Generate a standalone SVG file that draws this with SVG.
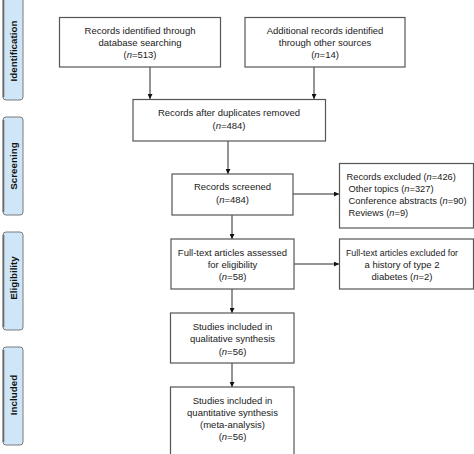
<svg xmlns="http://www.w3.org/2000/svg" width="474" height="454" viewBox="0 0 474 454">
<style>
.box{fill:#fff;stroke:#555;stroke-width:1.2}
.side{fill:#cfe6f8;stroke:#7a7a7a;stroke-width:1}
.sidel{stroke:#6a6a6a;stroke-width:1.6;fill:none}
.t{font-family:"Liberation Sans",Arial,sans-serif;font-size:9.5px;fill:#1a1a1a;text-anchor:middle}
.tl{font-family:"Liberation Sans",Arial,sans-serif;font-size:9.3px;fill:#1a1a1a}
.s{font-family:"Liberation Sans",Arial,sans-serif;font-size:9.8px;font-weight:bold;fill:#111;text-anchor:middle}
.c{stroke:#2a2a2a;stroke-width:1;fill:none;marker-end:url(#ah)}
</style>
<defs>
<marker id="ah" viewBox="0 0 10 10" refX="10" refY="5" markerWidth="5" markerHeight="5" markerUnits="userSpaceOnUse" orient="auto">
<path d="M0,0 L10,5 L0,10 z" fill="#111"/>
</marker>
</defs>
<rect width="474" height="454" fill="#fff"/>
<g id="side-identification">
<rect class="side" x="3" y="-4" width="20" height="104" rx="3"/>
<path class="sidel" d="M3.5,0 V97"/>
<text class="s" transform="translate(16.5,51) rotate(-90)">Identification</text>
</g>
<g id="side-screening">
<rect class="side" x="3" y="117" width="20" height="98" rx="3"/>
<path class="sidel" d="M3.5,120 V212"/>
<text class="s" transform="translate(16.5,166) rotate(-90)">Screening</text>
</g>
<g id="side-eligibility">
<rect class="side" x="3" y="232" width="20" height="98" rx="3"/>
<path class="sidel" d="M3.5,235 V327"/>
<text class="s" transform="translate(16.5,278) rotate(-90)">Eligibility</text>
</g>
<g id="side-included">
<rect class="side" x="3" y="347" width="20" height="98" rx="3"/>
<path class="sidel" d="M3.5,350 V442"/>
<text class="s" transform="translate(16.5,395) rotate(-90)">Included</text>
</g>
<g id="connectors">
<path class="c" d="M150,67 V99"/>
<path class="c" d="M314,67 V99"/>
<path class="c" d="M228,141 V174"/>
<path class="c" d="M232,215 V239"/>
<path class="c" d="M293,194 H339"/>
<path class="c" d="M294,264 H339"/>
<path class="c" d="M232,289 V313"/>
<path class="c" d="M232,363 V387"/>
</g>
<g id="n-database">
<rect class="box" x="59.5" y="17.5" width="161" height="49.5"/>
<text class="t" x="140" y="34">Records identified through</text>
<text class="t" x="140" y="46">database searching</text>
<text class="t" x="140" y="58">(<tspan font-style="italic">n</tspan>=513)</text>
</g>
<g id="n-other">
<rect class="box" x="245" y="17.5" width="160" height="49.5"/>
<text class="t" x="325" y="34">Additional records identified</text>
<text class="t" x="325" y="46">through other sources</text>
<text class="t" x="325" y="58">(<tspan font-style="italic">n</tspan>=14)</text>
</g>
<g id="n-dedup">
<rect class="box" x="133" y="99.5" width="192.5" height="41.5"/>
<text class="t" x="229" y="116">Records after duplicates removed</text>
<text class="t" x="229" y="129">(<tspan font-style="italic">n</tspan>=484)</text>
</g>
<g id="n-screened">
<rect class="box" x="172" y="174" width="121" height="41"/>
<text class="t" x="232.5" y="190">Records screened</text>
<text class="t" x="232.5" y="202.5">(<tspan font-style="italic">n</tspan>=484)</text>
</g>
<g id="n-excluded">
<rect class="box" x="339.5" y="163.5" width="134" height="64.5"/>
<text class="tl" x="346.5" y="179.5">Records excluded (<tspan font-style="italic">n</tspan>=426)</text>
<text class="tl" x="348.5" y="191.5">Other topics (<tspan font-style="italic">n</tspan>=327)</text>
<text class="tl" x="348.5" y="203.5">Conference abstracts (<tspan font-style="italic">n</tspan>=90)</text>
<text class="tl" x="348.5" y="215.5">Reviews (<tspan font-style="italic">n</tspan>=9)</text>
</g>
<g id="n-fulltext">
<rect class="box" x="171" y="239" width="123" height="50"/>
<text class="t" x="232.5" y="256">Full-text articles assessed</text>
<text class="t" x="232.5" y="268">for eligibility</text>
<text class="t" x="232.5" y="280">(<tspan font-style="italic">n</tspan>=58)</text>
</g>
<g id="n-excluded2">
<rect class="box" x="339.5" y="239" width="134" height="50"/>
<text class="t" x="402" y="256" textLength="112" lengthAdjust="spacingAndGlyphs">Full-text articles excluded for</text>
<text class="t" x="402" y="268">a history of type 2</text>
<text class="t" x="402" y="280">diabetes (<tspan font-style="italic">n</tspan>=2)</text>
</g>
<g id="n-qualitative">
<rect class="box" x="170.5" y="313" width="123.5" height="50"/>
<text class="t" x="232.5" y="330">Studies included in</text>
<text class="t" x="232.5" y="342">qualitative synthesis</text>
<text class="t" x="232.5" y="354.5">(<tspan font-style="italic">n</tspan>=56)</text>
</g>
<g id="n-quantitative">
<rect class="box" x="170.5" y="387" width="123.5" height="72"/>
<text class="t" x="232.5" y="404">Studies included in</text>
<text class="t" x="232.5" y="416">quantitative synthesis</text>
<text class="t" x="232.5" y="428">(meta-analysis)</text>
<text class="t" x="232.5" y="440">(<tspan font-style="italic">n</tspan>=56)</text>
</g>
</svg>
